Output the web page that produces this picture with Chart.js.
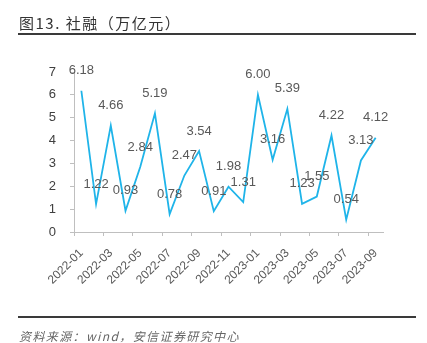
<!DOCTYPE html>
<html>
<head>
<meta charset="utf-8">
<script src="https://cdn.jsdelivr.net/npm/chart.js@4.4.1/dist/chart.umd.min.js"></script>
<style>
  html, body { margin: 0; padding: 0; background: #fff; overflow: hidden; }
  body { width: 427px; height: 343px; position: relative; font-family: 'Liberation Sans', 'Noto Sans CJK SC', sans-serif; }
  #wrap { position: absolute; left: 0; top: 0; width: 427px; height: 343px; }
  .title { position: absolute; left: 19px; top: 13px; font-size: 15px; color: #333; font-family: 'Noto Sans CJK SC', sans-serif; line-height: 20px; letter-spacing: 1.5px; }
  .rule { position: absolute; left: 18px; width: 398px; height: 2px; background: #3a3a3a; }
  .source { position: absolute; left: 19px; top: 328px; font-size: 12px; color: #666; font-style: italic; font-family: 'Noto Sans CJK SC', sans-serif; line-height: 16px; letter-spacing: 1.4px; }
</style>
</head>
<body>
<div id="wrap"><canvas id="chart"></canvas></div>
<div class="title">图13. 社融（万亿元）</div>
<div class="rule" style="top:33px"></div>
<div class="rule" style="top:316px"></div>
<div class="source">资料来源：wind，安信证券研究中心</div>
<script>
const months = ['2022-01', '2022-02', '2022-03', '2022-04', '2022-05', '2022-06', '2022-07',
  '2022-08', '2022-09', '2022-10', '2022-11', '2022-12', '2023-01', '2023-02', '2023-03',
  '2023-04', '2023-05', '2023-06', '2023-07', '2023-08', '2023-09'];
const socialFinancing = [6.18, 1.22, 4.66, 0.93, 2.84, 5.19, 0.78, 2.47, 3.54, 0.91, 1.98,
  1.31, 6.00, 3.16, 5.39, 1.23, 1.55, 4.22, 0.54, 3.13, 4.12];
const yTicks = [0, 1, 2, 3, 4, 5, 6, 7];

const axisGrey = '#bfbfbf';

// value labels above each point
const pointLabels = {
  id: 'pointLabels',
  afterDatasetsDraw(chart) {
    const ctx = chart.ctx;
    const meta = chart.getDatasetMeta(0);
    ctx.save();
    ctx.font = "13px 'Liberation Sans', Arial, sans-serif";
    ctx.fillStyle = '#595959';
    ctx.textAlign = 'center';
    ctx.textBaseline = 'middle';
    meta.data.forEach((pt, i) => {
      ctx.fillText(socialFinancing[i].toFixed(2), pt.x, pt.y - 20);
    });
    ctx.restore();
  }
};

new Chart(document.getElementById('chart'), {
  type: 'line',
  data: {
    labels: months,
    datasets: [{
      data: socialFinancing,
      borderColor: '#1fb4e9',
      borderWidth: 1.8,
      pointRadius: 0,
      tension: 0,
      fill: false
    }]
  },
  options: {
    responsive: true,
    maintainAspectRatio: false,
    animation: false,
    layout: { padding: { left: 0, right: 44, top: 72, bottom: 51 } },
    plugins: {
      legend: { display: false },
      tooltip: { enabled: false }
    },
    scales: {
      x: {
        offset: true,
        afterFit: (s) => { s.height = 60; },
        border: { color: axisGrey, width: 1 },
        grid: {
          offset: true,
          drawOnChartArea: false,
          tickLength: 4,
          tickColor: (c) => c.index % 2 === 0 ? axisGrey : 'rgba(0,0,0,0)'
        },
        ticks: {
          autoSkip: false,
          maxRotation: 45,
          minRotation: 45,
          padding: 10,
          color: '#595959',
          font: { size: 12, family: "'Liberation Sans', Arial, sans-serif" },
          callback: (v, i) => i % 2 === 0 ? months[i] : ''
        }
      },
      y: {
        min: 0,
        max: 7,
        afterFit: (s) => { s.width = 74; },
        afterBuildTicks: (s) => { s.ticks = yTicks.map((v) => ({ value: v })); },
        border: { color: axisGrey, width: 1 },
        grid: { drawOnChartArea: false, tickLength: 4, tickColor: axisGrey },
        ticks: {
          padding: 14,
          color: '#404040',
          font: { size: 13, family: "'Liberation Sans', Arial, sans-serif" }
        }
      }
    }
  },
  plugins: [pointLabels]
});
</script>
</body>
</html>
